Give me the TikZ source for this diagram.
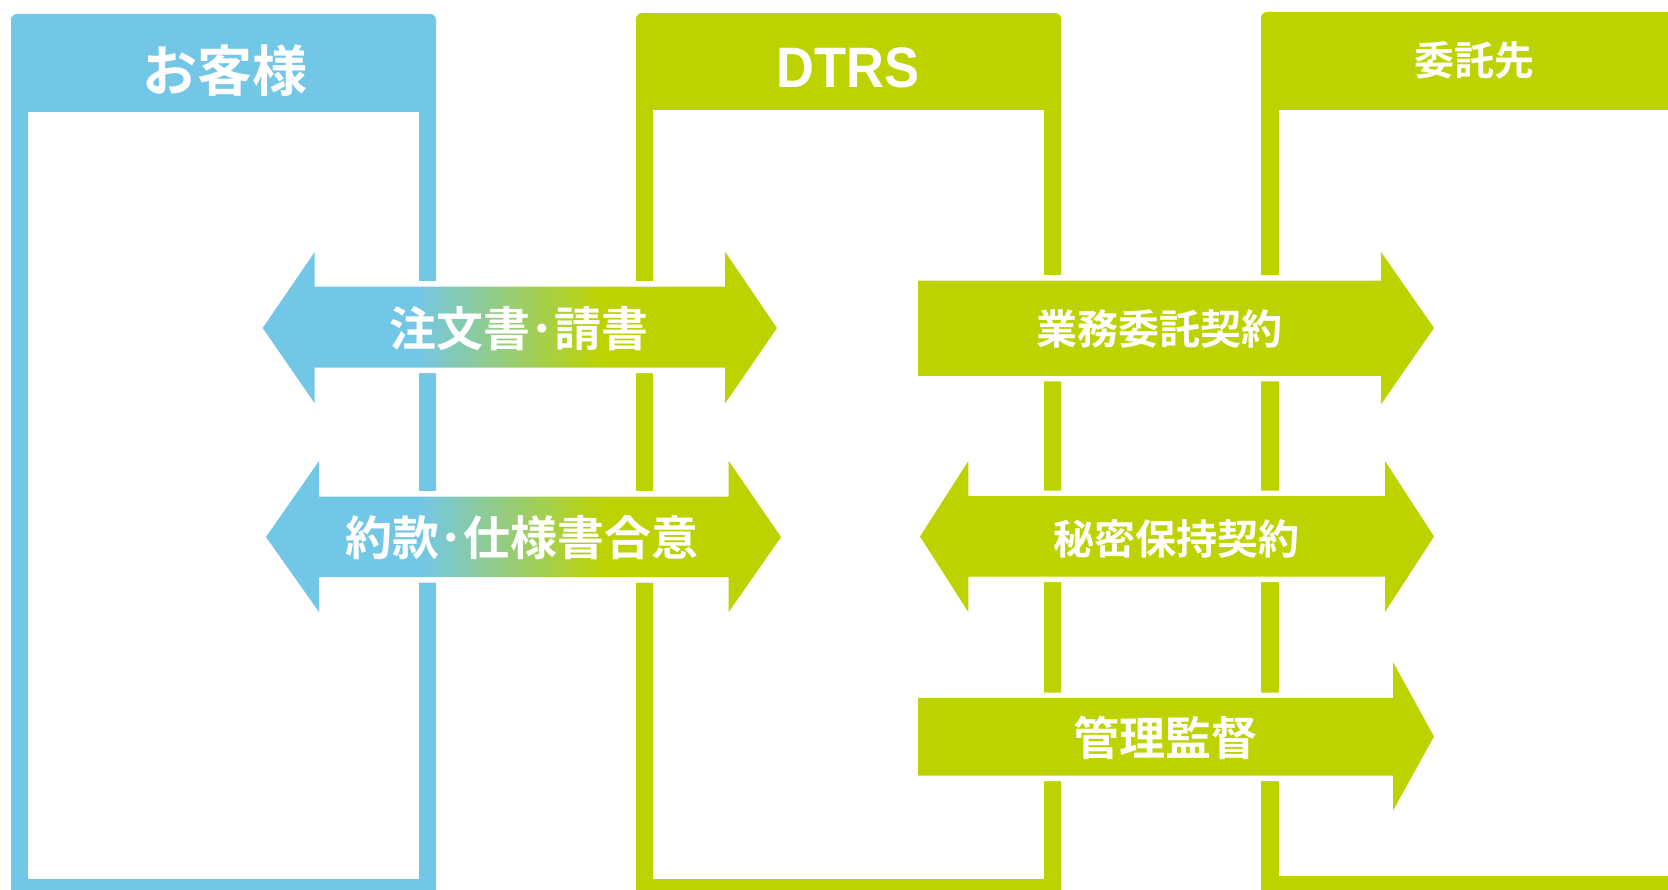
\documentclass[tikz,border=0pt]{standalone}
\usepackage{fontspec}
\newfontfamily\cjk{Noto Sans CJK JP}[BoldFont={Noto Sans CJK JP Bold}]
\newfontfamily\latinb{Liberation Sans}
\definecolor{cblue}{HTML}{73C7E6}
\definecolor{cgreen}{HTML}{BDD300}
\pgfdeclarehorizontalshading{bluegreen}{100bp}{color(0bp)=(cblue); color(40bp)=(cblue); color(58bp)=(cgreen); color(100bp)=(cgreen)}
\tikzset{
  lbl/.style={text=white, inner sep=0pt, font=\cjk\bfseries\fontsize{47}{50}\selectfont},
  lblsmall/.style={lbl, font=\cjk\bfseries\fontsize{41}{44}\selectfont},
  cutout/.style={draw=white, fill=white, line width=11pt, line join=round},
  inner/.style={fill=white},
}
\begin{document}
\begin{tikzpicture}[x=1pt,y=-1pt]
\useasboundingbox (0,0) rectangle (1668,890);
% columns
\fill[cblue] (11,890) -- (11,100) [rounded corners=6pt] -- (11,14) -- (436,14) -- (436,100) [sharp corners] -- (436,890) -- cycle;
\fill[inner] (28,112) rectangle (419,879);
\fill[cgreen] (636,890) -- (636,100) [rounded corners=6pt] -- (636,13) -- (1061,13) -- (1061,100) [sharp corners] -- (1061,890) -- cycle;
\fill[inner] (653,110) rectangle (1044,879);
\fill[cgreen] (1261,890) -- (1261,100) [rounded corners=6pt] -- (1261,12) -- (1700,12) [sharp corners] -- (1700,890) -- cycle;
\fill[inner] (1279,110) rectangle (1700,876);
% headers
\node[text=white, inner sep=0pt, font=\cjk\bfseries\fontsize{55}{58}\selectfont] (h1) at (225,71) {お客様};
\node[text=white, inner sep=0pt, font=\latinb\bfseries\fontsize{57}{60}\selectfont] (h2) at (848,68) {\scalebox{0.92}[1]{DTRS}};
\node[text=white, inner sep=0pt, font=\cjk\bfseries\fontsize{40}{43}\selectfont] (h3) at (1474,60) {委託先};
% arrow 1: double, gradient
\path[cutout] (262.7,328) -- (314.7,252) -- (314.7,286.7) -- (725.2,286.7) -- (725.2,252) -- (776.9,328) -- (725.2,403.3) -- (725.2,367.7) -- (314.7,367.7) -- (314.7,403.3) -- cycle;
\shade[shading=bluegreen] (262.7,328) -- (314.7,252) -- (314.7,286.7) -- (725.2,286.7) -- (725.2,252) -- (776.9,328) -- (725.2,403.3) -- (725.2,367.7) -- (314.7,367.7) -- (314.7,403.3) -- cycle;
% arrow 2: double, gradient
\path[cutout] (266,537) -- (319,461) -- (319,496.5) -- (728.7,496.5) -- (728.7,461) -- (781,537) -- (728.7,612) -- (728.7,577) -- (319,577) -- (319,612) -- cycle;
\shade[shading=bluegreen] (266,537) -- (319,461) -- (319,496.5) -- (728.7,496.5) -- (728.7,461) -- (781,537) -- (728.7,612) -- (728.7,577) -- (319,577) -- (319,612) -- cycle;
% arrow 3: single right
\path[cutout] (918,280.7) -- (1381,280.7) -- (1381,252) -- (1434,328) -- (1381,404.3) -- (1381,376) -- (918,376) -- cycle;
\fill[cgreen] (918,280.7) -- (1381,280.7) -- (1381,252) -- (1434,328) -- (1381,404.3) -- (1381,376) -- (918,376) -- cycle;
% arrow 4: double green
\path[cutout] (920,536.5) -- (968.3,461) -- (968.3,496) -- (1385,496) -- (1385,461) -- (1434,536.5) -- (1385,612) -- (1385,576.5) -- (968.3,576.5) -- (968.3,612) -- cycle;
\fill[cgreen] (920,536.5) -- (968.3,461) -- (968.3,496) -- (1385,496) -- (1385,461) -- (1434,536.5) -- (1385,612) -- (1385,576.5) -- (968.3,576.5) -- (968.3,612) -- cycle;
% arrow 5: single right
\path[cutout] (918,698) -- (1393,698) -- (1393,662) -- (1434,736.5) -- (1393,810.5) -- (1393,775.5) -- (918,775.5) -- cycle;
\fill[cgreen] (918,698) -- (1393,698) -- (1393,662) -- (1434,736.5) -- (1393,810.5) -- (1393,775.5) -- (918,775.5) -- cycle;
% labels
\node[lbl] (t1) at (519,329) {注文書･請書};
\node[lbl] (t2) at (522,538) {約款･仕様書合意};
\node[lblsmall] (t3) at (1159,329) {業務委託契約};
\node[lblsmall] (t4) at (1176,539) {秘密保持契約};
\node[lbl, font=\cjk\bfseries\fontsize{46}{49}\selectfont] (t5) at (1165,737.5) {管理監督};
\end{tikzpicture}
\end{document}
